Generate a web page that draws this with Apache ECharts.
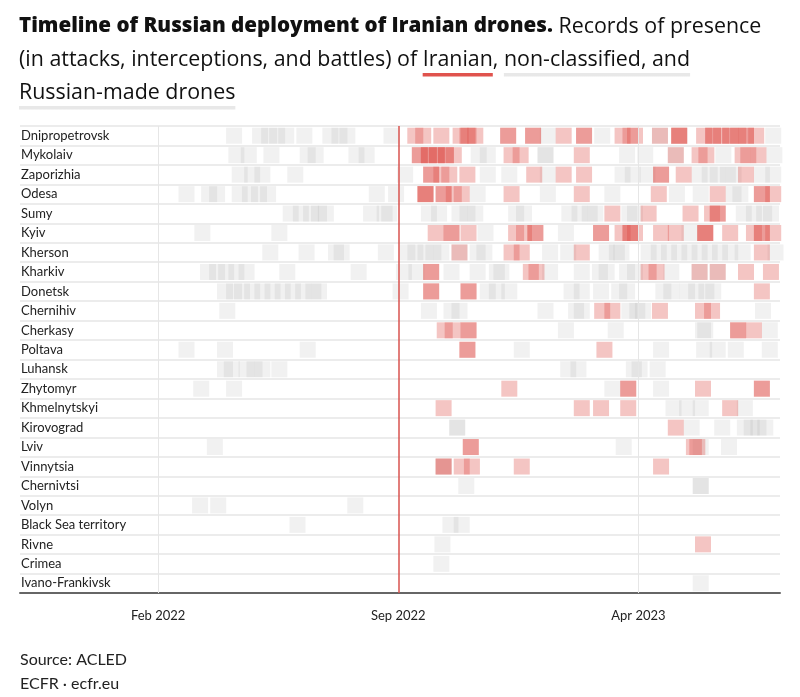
<!DOCTYPE html>
<html>
<head>
<meta charset="utf-8">
<script src="https://cdn.jsdelivr.net/npm/echarts@6/dist/echarts.min.js"></script>
<style>
html,body{margin:0;padding:0;background:#fff;}
#chart{width:800px;height:697px;}
</style>
</head>
<body>
<div id="chart"></div>
<script>
// ---- data ----
const regions = ['Dnipropetrovsk','Mykolaiv','Zaporizhia','Odesa','Sumy','Kyiv','Kherson','Kharkiv','Donetsk','Chernihiv','Cherkasy','Poltava','Luhansk','Zhytomyr','Khmelnytskyi','Kirovograd','Lviv','Vinnytsia','Chernivtsi','Volyn','Black Sea territory','Rivne','Crimea','Ivano-Frankivsk'];

const tickDates = ['2022-02-01','2022-09-01','2023-04-01'];
const tickLabels = ['Feb 2022','Sep 2022','Apr 2023'];
const axisStart = '2021-10-02';
const axisEnd = '2023-08-04';
const firstIranianDate = '2022-09-01';

// Records of Iranian-made drones, one date per record, by region (same order as regions)
const iranianRecords = [
  ['2022-09-16','2022-09-23','2022-10-09','2022-10-26','2022-11-01','2022-11-02','2022-11-08','2022-12-07','2022-12-07','2022-12-29','2022-12-29','2023-01-25','2023-02-12','2023-02-12','2023-03-18','2023-03-25','2023-03-29','2023-04-20','2023-05-07','2023-05-07','2023-05-07','2023-05-29','2023-06-06','2023-06-06','2023-06-13','2023-06-21','2023-06-21','2023-06-28','2023-07-05','2023-07-05','2023-07-14'],
  ['2022-09-20','2022-09-20','2022-09-28','2022-09-28','2022-10-05','2022-10-05','2022-10-13','2022-10-13','2022-10-20','2022-12-10','2022-12-18','2023-02-10','2023-05-04','2023-05-25','2023-05-31','2023-07-02','2023-07-07','2023-07-16'],
  ['2022-09-30','2022-09-30','2022-10-09','2022-10-16','2022-11-01','2022-12-30','2023-01-25','2023-02-12','2023-04-21','2023-04-21','2023-05-11','2023-07-05'],
  ['2022-09-25','2022-09-25','2022-09-25','2022-10-11','2022-10-11','2022-10-20','2022-10-27','2022-12-10','2023-02-10','2023-04-19','2023-06-10','2023-07-19','2023-07-19','2023-07-29'],
  ['2023-03-09','2023-04-10','2023-05-17','2023-06-05','2023-06-10','2023-06-10'],
  ['2022-10-04','2022-10-18','2022-10-18','2022-11-02','2022-12-14','2022-12-21','2022-12-31','2022-12-31','2023-02-27','2023-02-27','2023-03-18','2023-03-25','2023-03-25','2023-03-29','2023-04-21','2023-05-04','2023-05-30','2023-05-30','2023-05-30','2023-06-21','2023-07-12','2023-07-19','2023-07-19','2023-07-29'],
  ['2022-10-25','2022-12-10','2022-12-19','2023-02-10','2023-07-19'],
  ['2022-09-30','2022-09-30','2022-12-27','2023-01-01','2023-04-10','2023-04-17','2023-05-25','2023-06-10','2023-07-05','2023-07-27'],
  ['2022-09-30','2022-09-30','2022-11-02','2022-11-02','2023-07-19'],
  ['2023-02-28','2023-03-09','2023-04-20','2023-05-28','2023-06-05'],
  ['2022-10-12','2022-10-19','2022-11-02','2022-11-02','2023-06-28','2023-06-28','2023-07-12'],
  ['2022-11-01','2022-11-01','2023-03-02'],
  [],
  ['2022-12-08','2023-03-23','2023-03-23','2023-05-28','2023-07-19','2023-07-19'],
  ['2022-10-11','2023-02-10','2023-02-27','2023-03-23','2023-06-21'],
  ['2023-05-04'],
  ['2022-11-04','2022-11-04','2023-05-20','2023-05-23'],
  ['2022-10-11','2022-10-11','2022-10-27','2022-11-05','2022-12-19','2023-04-21'],
  [],
  [],
  [],
  ['2023-05-28'],
  [],
  []
];

// Records of non-classified and Russian-made drones, by region
const otherRecords = [
  ['2022-04-09','2022-05-02','2022-05-10','2022-05-17','2022-05-25','2022-06-10','2022-07-03','2022-07-11','2022-07-18','2022-08-26','2023-01-11','2023-02-28','2023-04-20','2023-07-29'],
  ['2022-04-11','2022-04-22','2022-05-12','2022-06-13','2022-06-20','2022-07-26','2022-08-04','2022-11-11','2022-11-19','2023-01-09','2023-01-09','2023-03-22','2023-04-07','2023-05-04','2023-06-15','2023-07-30'],
  ['2022-04-14','2022-04-25','2022-05-04','2022-06-02','2022-09-07','2022-11-19','2022-12-08','2023-01-11','2023-03-18','2023-03-27','2023-04-09','2023-05-25','2023-06-03','2023-06-10','2023-06-19','2023-06-24','2023-07-19','2023-07-29'],
  ['2022-02-26','2022-03-18','2022-03-25','2022-04-14','2022-04-23','2022-05-01','2022-05-09','2022-08-13','2022-08-30','2022-11-10','2023-01-11','2023-03-09','2023-05-05','2023-05-26','2023-06-24','2023-06-30'],
  ['2022-05-29','2022-06-07','2022-06-16','2022-06-23','2022-06-29','2022-08-08','2022-08-20','2022-08-24','2022-09-28','2022-10-07','2022-10-25','2022-11-01','2022-11-08','2022-12-14','2022-12-21','2023-01-30','2023-02-08','2023-02-17','2023-02-22','2023-03-24','2023-03-29','2023-07-03','2023-07-12','2023-07-21','2023-07-27'],
  ['2022-03-12','2022-05-19','2022-11-17','2023-01-27','2023-05-16'],
  ['2022-05-11','2022-06-12','2022-07-08','2022-07-13','2022-08-21','2022-09-09','2022-09-16','2022-09-25','2022-10-02','2022-10-09','2022-10-25','2022-11-10','2022-11-16','2023-01-13','2023-01-29','2023-03-04','2023-03-13','2023-03-17','2023-04-10','2023-04-19','2023-04-28','2023-05-07','2023-05-16','2023-05-25','2023-06-03','2023-06-12','2023-06-21','2023-07-02','2023-07-31'],
  ['2022-03-17','2022-03-25','2022-04-02','2022-04-11','2022-04-20','2022-05-26','2022-07-28','2022-09-06','2022-09-17','2022-10-18','2022-11-10','2022-11-27','2022-12-01','2023-01-13','2023-02-10','2023-02-26','2023-03-04','2023-03-22','2023-03-29','2023-04-30','2023-05-25','2023-06-10'],
  ['2022-04-01','2022-04-09','2022-04-16','2022-04-25','2022-05-04','2022-05-13','2022-05-22','2022-05-31','2022-06-09','2022-06-18','2022-06-23','2022-09-03','2022-11-19','2022-11-27','2022-12-08','2023-02-01','2023-02-10','2023-02-27','2023-03-15','2023-03-22','2023-04-23','2023-04-30','2023-05-14','2023-05-22','2023-05-31','2023-06-06'],
  ['2022-04-03','2022-09-28','2022-10-18','2022-10-25','2023-01-09','2023-02-05','2023-02-10','2023-03-24','2023-03-31','2023-04-05','2023-07-20'],
  ['2023-01-27','2023-03-12','2023-05-28','2023-05-30','2023-07-26'],
  ['2022-02-26','2022-04-01','2022-06-13','2022-12-19','2023-04-21','2023-05-29','2023-06-10','2023-06-26','2023-07-26'],
  ['2022-04-01','2022-04-07','2022-04-20','2022-04-27','2022-05-04','2022-05-19','2023-01-29','2023-02-07','2023-03-28','2023-04-02','2023-04-18'],
  ['2022-03-11','2022-04-09','2023-03-09','2023-04-21'],
  ['2023-05-02','2023-05-14','2023-05-26','2023-07-04'],
  ['2022-10-23','2022-10-23','2023-05-18','2023-06-14','2023-07-04','2023-07-10','2023-07-16','2023-07-22'],
  ['2022-03-23','2023-03-19','2023-05-26','2023-06-20'],
  ['2022-10-11'],
  ['2022-10-31','2023-05-26','2023-05-26'],
  ['2022-03-10','2022-03-26','2022-07-25'],
  ['2022-06-04','2022-10-17','2022-10-27'],
  ['2022-10-10'],
  ['2022-10-09'],
  ['2023-05-26']
];

// ---- chart ----
const parse = d => +echarts.number.parseDate(d);
const toPoints = recs => recs.flatMap((list, i) => list.map(d => [parse(d), regions[i]]));
const tickValues = tickDates.map(parse);
const FONT = 'Lato';
const TITLE_FONT = 'Open Sans';

function underline(color) {
  return new echarts.graphic.LinearGradient(0, 0, 0, 1, [
    {offset: 0, color: 'rgba(255,255,255,0)'},
    {offset: 0.9, color: 'rgba(255,255,255,0)'},
    {offset: 0.9, color: color},
    {offset: 1, color: color}
  ]);
}

const chart = echarts.init(document.getElementById('chart'), null, {renderer: 'canvas'});
const txt = {fontFamily: TITLE_FONT, fontSize: 21.4, lineHeight: 33, color: '#111', fontWeight: 'normal'};

chart.setOption({
  animation: false,
  backgroundColor: '#fff',
  title: [
    {
      left: 19, top: 10, padding: 0,
      text: '{b|Timeline of Russian deployment of Iranian drones.}{n| Records of presence}\n' +
            '{n|(in attacks, interceptions, and battles) of }{ir|Iranian}{n|, }{gr|non-classified, and}\n' +
            '{gr|Russian-made drones}',
      textStyle: {
        fontFamily: TITLE_FONT, fontWeight: 'normal', fontSize: 21.4,
        rich: {
          b: Object.assign({}, txt, {fontWeight: 800, fontSize: 20.6}),
          n: Object.assign({}, txt),
          ir: Object.assign({}, txt, {height: 34, backgroundColor: underline('#e0534d')}),
          gr: Object.assign({}, txt, {height: 34, backgroundColor: underline('#e8e8e8')})
        }
      }
    },
    {
      left: 20, top: 650, padding: 0, text: 'Source: ACLED',
      textStyle: {fontFamily: FONT, fontSize: 16, fontWeight: 'normal', color: '#222', lineHeight: 20}
    },
    {
      left: 20, top: 674, padding: 0, text: 'ECFR · ecfr.eu',
      textStyle: {fontFamily: FONT, fontSize: 16, fontWeight: 'normal', color: '#222', lineHeight: 20}
    }
  ],
  grid: {left: 20, right: 20, top: 126, height: 467, containLabel: false},
  xAxis: {
    type: 'value',
    min: parse(axisStart),
    max: parse(axisEnd),
    axisLine: {show: true, lineStyle: {color: '#666', width: 2}},
    axisTick: {show: false},
    splitLine: {show: false},
    axisLabel: {
      customValues: tickValues,
      formatter: v => tickLabels[tickValues.indexOf(v)] || '',
      fontFamily: FONT, fontSize: 13, color: '#222', margin: 16, hideOverlap: false
    }
  },
  yAxis: {
    type: 'category',
    data: regions,
    inverse: true,
    axisLine: {show: false},
    axisTick: {show: false},
    splitLine: {show: true, lineStyle: {color: '#ececec', width: 2}},
    axisLabel: {inside: true, margin: 1, fontFamily: FONT, fontSize: 13, color: '#222'}
  },
  series: [
    {
      name: 'Non-classified and Russian-made',
      type: 'scatter',
      symbol: 'rect',
      symbolSize: [16, 16],
      silent: true,
      emphasis: {disabled: true},
      itemStyle: {color: 'rgb(140,140,140)', opacity: 0.12, borderWidth: 0, borderColor: 'transparent'},
      data: toPoints(otherRecords),
      markLine: {
        silent: true,
        symbol: ['none', 'none'],
        label: {show: false},
        emphasis: {disabled: true},
        data: tickDates.map((d, i) => ({
          xAxis: tickValues[i],
          lineStyle: d === firstIranianDate
            ? {color: '#d9534f', width: 1.5, type: 'solid'}
            : {color: '#e6e6e6', width: 1, type: 'solid'}
        }))
      }
    },
    {
      name: 'Iranian',
      type: 'scatter',
      symbol: 'rect',
      symbolSize: [16, 16],
      silent: true,
      emphasis: {disabled: true},
      itemStyle: {color: 'rgb(217,62,56)', opacity: 0.3, borderWidth: 0, borderColor: 'transparent'},
      data: toPoints(iranianRecords)
    }
  ]
});
</script>
</body>
</html>
